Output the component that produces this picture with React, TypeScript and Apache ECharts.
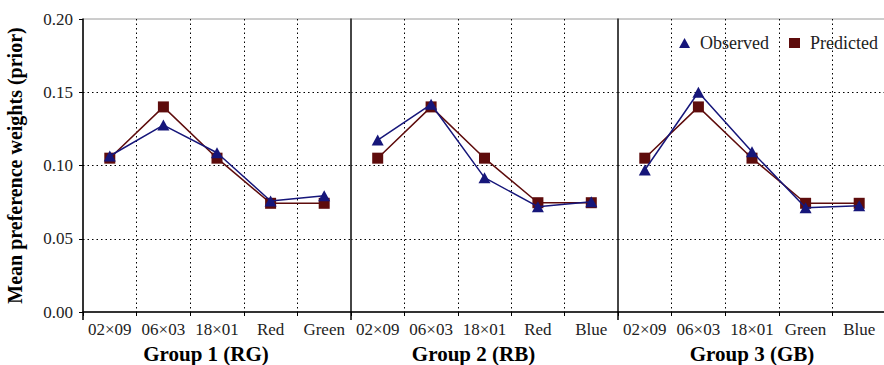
import React, { useEffect, useRef } from "react";
import * as echarts from "echarts";

const groupTitles = ["Group 1 (RG)", "Group 2 (RB)", "Group 3 (GB)"];
const categories1 = ["02×09", "06×03", "18×01", "Red", "Green"];
const categories2 = ["02×09", "06×03", "18×01", "Red", "Blue"];
const categories3 = ["02×09", "06×03", "18×01", "Green", "Blue"];
const observed1 = [0.1065, 0.1276, 0.1087, 0.0758, 0.0794];
const predicted1 = [0.105, 0.140, 0.105, 0.0742, 0.0742];
const observed2 = [0.1174, 0.1418, 0.0917, 0.0719, 0.0753];
const predicted2 = [0.105, 0.140, 0.105, 0.0746, 0.0746];
const observed3 = [0.0969, 0.1500, 0.1094, 0.0712, 0.0726];
const predicted3 = [0.105, 0.140, 0.105, 0.0742, 0.0742];
const yTicks = [0, 0.05, 0.1, 0.15, 0.2];

const FONT = "'Liberation Serif', 'DejaVu Serif', serif";
const OBS = "#16167a";
const PRED = "#5e0c0c";

export default function App() {
  const ref = useRef<HTMLDivElement>(null);
  useEffect(() => {
    if (!ref.current) return;
    const chart = echarts.init(ref.current, null, { renderer: "svg" });
    const cats = [categories1, categories2, categories3];
    const obs = [observed1, observed2, observed3];
    const pred = [predicted1, predicted2, predicted3];
    const lefts = [83, 351, 618];
    const widths = [268, 267, 268];
    const grids = lefts.map((l, i) => ({
      left: l,
      width: widths[i],
      top: 19,
      height: 293,
      containLabel: false,
      outerBoundsMode: "none",
      show: true,
      borderColor: "#9a9a9a",
      borderWidth: 1,
      backgroundColor: "transparent",
    }));
    const dotted = { color: "#000", width: 1, type: [1.5, 3] as any };
    const xAxes = cats.map((c, i) => ({
      type: "category",
      gridIndex: i,
      data: c,
      boundaryGap: true,
      axisLine: { show: true, lineStyle: { color: "#000", width: 1.5 } },
      axisTick: { show: true, length: 4, lineStyle: { color: "#000" } },
      axisLabel: { color: "#222", fontFamily: FONT, fontSize: 17, margin: 9, interval: 0 },
      splitLine: { show: true, showMinLine: false, showMaxLine: false, lineStyle: dotted },
      name: groupTitles[i],
      nameLocation: "middle",
      nameGap: 31,
      nameTextStyle: {
        color: "#000",
        fontFamily: FONT,
        fontSize: 21,
        fontWeight: "bold",
        padding: i < 2 ? [0, 22, 0, 0] : [0, 0, 0, 0],
      },
    }));
    const yAxes = [0, 1, 2].map((i) => ({
      type: "value",
      gridIndex: i,
      min: 0,
      max: 0.2,
      interval: 0.05,
      axisLine: { show: true, lineStyle: { color: i === 0 ? "#000" : "#222", width: 1.5 } },
      axisTick: { show: i === 0, length: 4, lineStyle: { color: "#000" } },
      axisLabel: {
        show: i === 0,
        color: "#222",
        fontFamily: FONT,
        fontSize: 17,
        margin: 10,
        formatter: (v: number) => v.toFixed(2),
      },
      splitLine: { show: true, showMinLine: false, showMaxLine: false, lineStyle: dotted },
      name: i === 0 ? "Mean preference weights (prior)" : "",
      nameLocation: "middle",
      nameGap: 50,
      nameTextStyle: { color: "#000", fontFamily: FONT, fontSize: 20, fontWeight: "bold", padding: [0, 0, 8, 0] },
    }));
    const series: any[] = [];
    [0, 1, 2].forEach((i) => {
      series.push({
        name: "Observed",
        type: "line",
        xAxisIndex: i,
        yAxisIndex: i,
        data: obs[i],
        symbol: "triangle",
        symbolSize: [12, 11],
        lineStyle: { color: OBS, width: 1.5 },
        itemStyle: { color: OBS },
        z: 3,
      });
      series.push({
        name: "Predicted",
        type: "line",
        xAxisIndex: i,
        yAxisIndex: i,
        data: pred[i],
        symbol: "rect",
        symbolSize: 11,
        lineStyle: { color: PRED, width: 1.5 },
        itemStyle: { color: PRED },
        z: 2,
      });
    });
    const extLine = (x: number) => ({
      type: "line",
      shape: { x1: x, y1: 312, x2: x, y2: 320 },
      style: { stroke: "#000", lineWidth: 1.5 },
    });
    chart.setOption({
      animation: false,
      backgroundColor: "#fff",
      grid: grids,
      xAxis: xAxes,
      yAxis: yAxes,
      legend: {
        right: 1,
        top: 29,
        itemGap: 20,
        itemWidth: 11,
        itemHeight: 10,
        textStyle: { color: "#222", fontFamily: FONT, fontSize: 18, padding: [0, 0, 0, 5] },
        data: [
          { name: "Observed", icon: "triangle" },
          { name: "Predicted", icon: "rect" },
        ],
      },
      graphic: [extLine(83), extLine(351), extLine(618)],
      series,
    });
    return () => chart.dispose();
  }, []);
  return <div ref={ref} style={{ width: 884, height: 365, position: "absolute", left: 0, top: 0 }} />;
}
